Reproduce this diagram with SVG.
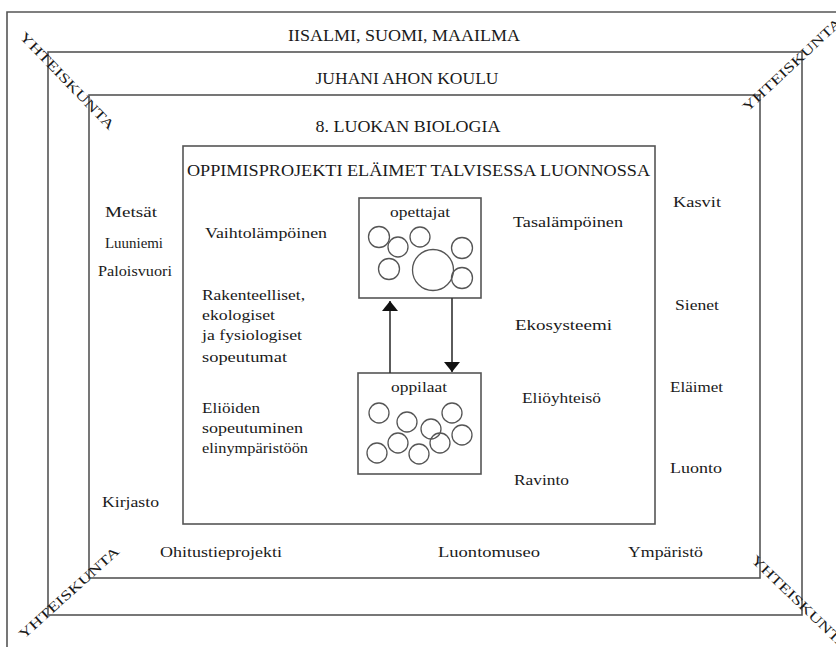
<svg xmlns="http://www.w3.org/2000/svg" width="836" height="647" viewBox="0 0 836 647">
  <style>
    .frame { fill: none; stroke: #555; stroke-width: 1.6; }
    .box { fill: #fff; stroke: #555; stroke-width: 1.6; }
    .ring { fill: none; stroke: #555; stroke-width: 1.3; }
    .t { font-family: "Liberation Serif", "Times New Roman", serif; font-size: 15px; fill: #1a1a1a; }
    .h { font-family: "Liberation Serif", "Times New Roman", serif; font-size: 16px; fill: #1a1a1a; }
    .d { font-family: "Liberation Serif", "Times New Roman", serif; font-size: 13.5px; fill: #1a1a1a; text-anchor: middle; }
    .c { text-anchor: middle; }
    .link { stroke: #333; stroke-width: 1.6; fill: none; }
  </style>
  <defs>
    <marker id="head" viewBox="0 0 10 16" refX="10" refY="8" markerWidth="10" markerHeight="16" markerUnits="userSpaceOnUse" orient="auto">
      <path d="M0,0 L10,8 L0,16 Z" fill="#111"/>
    </marker>
  </defs>
  <rect width="836" height="647" fill="#fff"/>

  <!-- nested frames: world, school, class -->
  <g id="frame-world">
    <path class="frame" d="M7,647 V12 H836" stroke-width="2"/>
    <text class="h c" x="404" y="41" textLength="232" lengthAdjust="spacingAndGlyphs">IISALMI, SUOMI, MAAILMA</text>
  </g>
  <g id="frame-school">
    <rect class="frame" x="48" y="52" width="754" height="563"/>
    <text class="h c" x="407" y="84" textLength="183" lengthAdjust="spacingAndGlyphs">JUHANI AHON KOULU</text>
  </g>
  <g id="frame-class">
    <rect class="frame" x="89" y="95" width="671" height="483"/>
    <text class="h c" x="408" y="132" textLength="185" lengthAdjust="spacingAndGlyphs">8. LUOKAN BIOLOGIA</text>
  </g>

  <!-- community labels on the corners -->
  <g id="community">
    <text class="d" transform="translate(64,84) rotate(46)" textLength="130" lengthAdjust="spacingAndGlyphs">YHTEISKUNTA</text>
    <text class="d" transform="translate(795,68) rotate(-43)" textLength="130" lengthAdjust="spacingAndGlyphs">YHTEISKUNTA</text>
    <text class="d" transform="translate(72,596) rotate(-42)" textLength="130" lengthAdjust="spacingAndGlyphs">YHTEISKUNTA</text>
    <text class="d" transform="translate(797,606) rotate(44)" textLength="130" lengthAdjust="spacingAndGlyphs">YHTEISKUNTA</text>
  </g>

  <!-- surroundings between class frame and project box -->
  <g id="surroundings-left">
    <text class="t" x="105" y="217" textLength="52" lengthAdjust="spacingAndGlyphs">Metsät</text>
    <text class="t" x="105" y="248" textLength="58" lengthAdjust="spacingAndGlyphs">Luuniemi</text>
    <text class="t" x="98" y="276" textLength="74" lengthAdjust="spacingAndGlyphs">Paloisvuori</text>
    <text class="t" x="102" y="507" textLength="57" lengthAdjust="spacingAndGlyphs">Kirjasto</text>
  </g>
  <g id="surroundings-right">
    <text class="t" x="673" y="207" textLength="48" lengthAdjust="spacingAndGlyphs">Kasvit</text>
    <text class="t" x="675" y="310" textLength="44" lengthAdjust="spacingAndGlyphs">Sienet</text>
    <text class="t" x="670" y="392" textLength="53" lengthAdjust="spacingAndGlyphs">Eläimet</text>
    <text class="t" x="670" y="473" textLength="52" lengthAdjust="spacingAndGlyphs">Luonto</text>
  </g>
  <g id="surroundings-bottom">
    <text class="t" x="160" y="557" textLength="122" lengthAdjust="spacingAndGlyphs">Ohitustieprojekti</text>
    <text class="t" x="438" y="557" textLength="102" lengthAdjust="spacingAndGlyphs">Luontomuseo</text>
    <text class="t" x="628" y="557" textLength="75" lengthAdjust="spacingAndGlyphs">Ympäristö</text>
  </g>

  <!-- learning project box -->
  <g id="project">
    <rect class="frame" x="183" y="146" width="472" height="378"/>
    <text class="h" x="187" y="176" textLength="463" lengthAdjust="spacingAndGlyphs">OPPIMISPROJEKTI ELÄIMET TALVISESSA LUONNOSSA</text>
    <text class="t" x="205" y="238" textLength="122" lengthAdjust="spacingAndGlyphs">Vaihtolämpöinen</text>
    <text class="t" x="202" y="300" textLength="103" lengthAdjust="spacingAndGlyphs">Rakenteelliset,</text>
    <text class="t" x="202" y="320" textLength="73" lengthAdjust="spacingAndGlyphs">ekologiset</text>
    <text class="t" x="202" y="340" textLength="100" lengthAdjust="spacingAndGlyphs">ja fysiologiset</text>
    <text class="t" x="202" y="362" textLength="85" lengthAdjust="spacingAndGlyphs">sopeutumat</text>
    <text class="t" x="202" y="413" textLength="58" lengthAdjust="spacingAndGlyphs">Eliöiden</text>
    <text class="t" x="202" y="433" textLength="101" lengthAdjust="spacingAndGlyphs">sopeutuminen</text>
    <text class="t" x="202" y="453" textLength="106" lengthAdjust="spacingAndGlyphs">elinympäristöön</text>
    <text class="t" x="513" y="227" textLength="110" lengthAdjust="spacingAndGlyphs">Tasalämpöinen</text>
    <text class="t" x="515" y="330" textLength="97" lengthAdjust="spacingAndGlyphs">Ekosysteemi</text>
    <text class="t" x="522" y="403" textLength="79" lengthAdjust="spacingAndGlyphs">Eliöyhteisö</text>
    <text class="t" x="514" y="485" textLength="55" lengthAdjust="spacingAndGlyphs">Ravinto</text>
  </g>

  <!-- teachers -->
  <g id="opettajat">
    <rect class="box" x="359" y="198" width="122" height="100"/>
    <text class="t" x="390" y="217" textLength="60" lengthAdjust="spacingAndGlyphs">opettajat</text>
    <circle class="ring" cx="379" cy="237" r="10.5"/>
    <circle class="ring" cx="398" cy="247" r="10"/>
    <circle class="ring" cx="420" cy="237" r="10"/>
    <circle class="ring" cx="462" cy="248" r="10.5"/>
    <circle class="ring" cx="389" cy="269" r="10.5"/>
    <circle class="ring" cx="433" cy="270" r="20.5"/>
    <circle class="ring" cx="462" cy="278" r="10.5"/>
  </g>

  <!-- pupils -->
  <g id="oppilaat">
    <rect class="box" x="358" y="373" width="123" height="101"/>
    <text class="t" x="391" y="392" textLength="56" lengthAdjust="spacingAndGlyphs">oppilaat</text>
    <circle class="ring" cx="379" cy="413" r="10"/>
    <circle class="ring" cx="407" cy="422" r="10"/>
    <circle class="ring" cx="452" cy="413" r="10"/>
    <circle class="ring" cx="431" cy="429" r="10"/>
    <circle class="ring" cx="462" cy="435" r="10"/>
    <circle class="ring" cx="398" cy="443" r="10"/>
    <circle class="ring" cx="440" cy="443" r="10"/>
    <circle class="ring" cx="377" cy="453" r="10"/>
    <circle class="ring" cx="419" cy="454" r="10"/>
  </g>

  <!-- interaction between teachers and pupils -->
  <g id="connectors">
    <line class="link" x1="390" y1="373" x2="390" y2="301" marker-end="url(#head)"/>
    <line class="link" x1="452" y1="298" x2="452" y2="372" marker-end="url(#head)"/>
  </g>
</svg>
